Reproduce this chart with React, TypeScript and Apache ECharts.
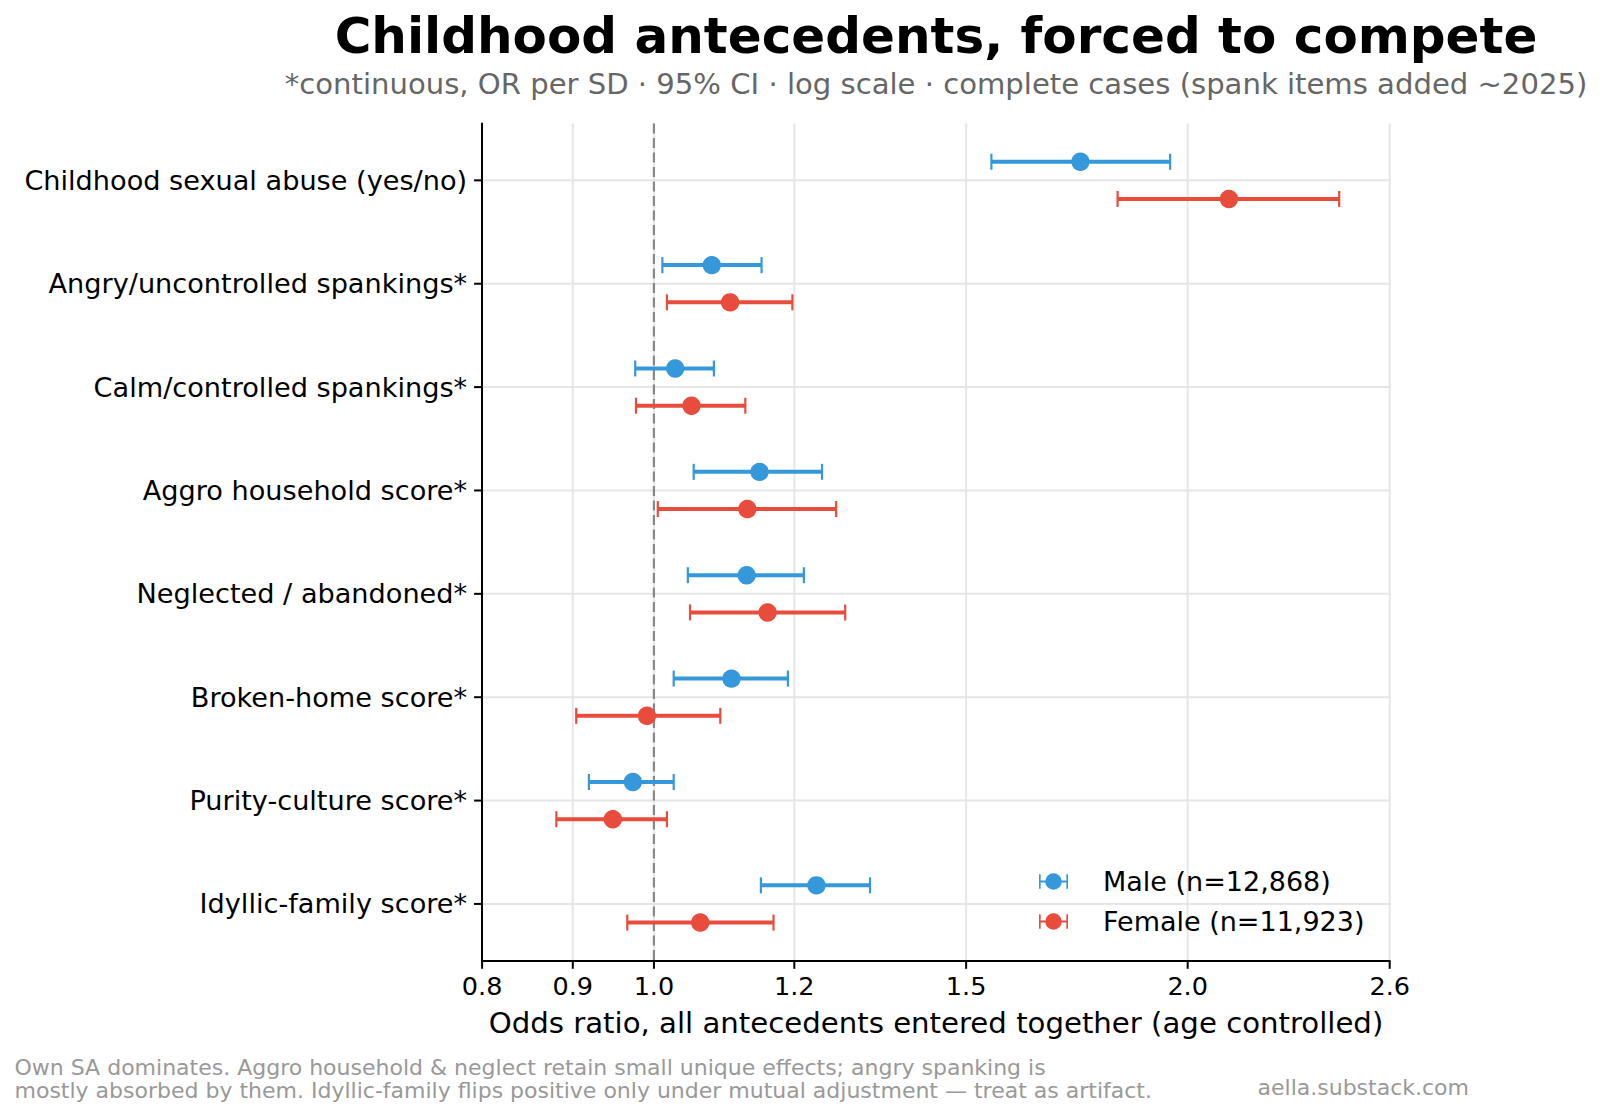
import React, { useEffect, useRef } from "react";
import * as echarts from "echarts";

// Antecedents, top to bottom
const categories = [
  "Childhood sexual abuse (yes/no)",
  "Angry/uncontrolled spankings*",
  "Calm/controlled spankings*",
  "Aggro household score*",
  "Neglected / abandoned*",
  "Broken-home score*",
  "Purity-culture score*",
  "Idyllic-family score*",
];

// Odds ratios with 95% CI bounds
const maleOR = [1.74, 1.078, 1.028, 1.147, 1.128, 1.106, 0.973, 1.235];
const maleLo = [1.55, 1.011, 0.976, 1.053, 1.045, 1.026, 0.919, 1.149];
const maleHi = [1.955, 1.15, 1.081, 1.244, 1.215, 1.19, 1.026, 1.324];

const femaleOR = [2.11, 1.104, 1.05, 1.129, 1.159, 0.991, 0.948, 1.062];
const femaleLo = [1.826, 1.017, 0.977, 1.005, 1.048, 0.904, 0.881, 0.966];
const femaleHi = [2.435, 1.197, 1.126, 1.267, 1.282, 1.09, 1.017, 1.168];

const xTicks = [0.8, 0.9, 1.0, 1.2, 1.5, 2.0, 2.6];
const xTickLabels = ["0.8", "0.9", "1.0", "1.2", "1.5", "2.0", "2.6"];
const refOR = [1.0];

const MALE_NAME = "Male (n=12,868)";
const FEMALE_NAME = "Female (n=11,923)";
const TITLE = "Childhood antecedents, forced to compete";
const SUBTITLE =
  "*continuous, OR per SD \u00b7 95% CI \u00b7 log scale \u00b7 complete cases (spank items added ~2025)";
const X_TITLE = "Odds ratio, all antecedents entered together (age controlled)";
const NOTE_1 =
  "Own SA dominates. Aggro household & neglect retain small unique effects; angry spanking is";
const NOTE_2 =
  "mostly absorbed by them. Idyllic-family flips positive only under mutual adjustment \u2014 treat as artifact.";
const CREDIT = "aella.substack.com";

const X_MIN = 0.8;
const X_MAX = 2.6;
const Y_MIN = -0.55;
const Y_MAX = 7.55;
const ROW_OFFSET = 0.18;

const BLUE = "#3498db";
const RED = "#e74c3c";
const GRID = "#e6e6e6";
const FONT = "DejaVu Sans";

const ERRORBAR_ICON =
  "path://M0,1h1.6v14h-1.6z M26.4,1h1.6v14h-1.6z M0,7h28v2h-28z M6,8a8,8 0 1,1 16,0a8,8 0 1,1 -16,0z";

function errorBarRenderer(offset: number, color: string) {
  return (params: any, api: any) => {
    const or = api.value(0);
    const lo = api.value(1);
    const hi = api.value(2);
    const row = api.value(3) + offset;
    const p = api.coord([or, row]);
    const pl = api.coord([lo, row]);
    const ph = api.coord([hi, row]);
    const y = p[1];
    return {
      type: "group",
      children: [
        {
          type: "line",
          shape: { x1: pl[0], y1: y, x2: ph[0], y2: y },
          style: { stroke: color, lineWidth: 4 },
        },
        {
          type: "line",
          shape: { x1: pl[0], y1: y - 8, x2: pl[0], y2: y + 8 },
          style: { stroke: color, lineWidth: 2.2 },
        },
        {
          type: "line",
          shape: { x1: ph[0], y1: y - 8, x2: ph[0], y2: y + 8 },
          style: { stroke: color, lineWidth: 2.2 },
        },
        {
          type: "circle",
          shape: { cx: p[0], cy: y, r: 9.2 },
          style: { fill: color },
        },
      ],
    };
  };
}

export default function App() {
  const ref = useRef<HTMLDivElement>(null);

  useEffect(() => {
    if (!ref.current) return;
    const chart = echarts.init(ref.current, null, { renderer: "svg" });

    const option: any = {
      animation: false,
      backgroundColor: "#ffffff",
      textStyle: { fontFamily: FONT },
      title: {
        text: TITLE,
        subtext: SUBTITLE,
        left: 936,
        top: 11,
        textAlign: "center",
        padding: 0,
        itemGap: 8,
        textStyle: { fontFamily: FONT, fontSize: 50, fontWeight: "bold", color: "#000" },
        subtextStyle: { fontFamily: FONT, fontSize: 29.1, color: "#666666" },
      },
      legend: {
        data: [MALE_NAME, FEMALE_NAME],
        orient: "vertical",
        left: 1039,
        top: 868,
        padding: 0,
        itemWidth: 29,
        itemHeight: 17,
        itemGap: 13,
        icon: ERRORBAR_ICON,
        textStyle: { fontFamily: FONT, fontSize: 27, color: "#000", padding: [0, 0, 0, 30] },
      },
      grid: {
        left: 482.1,
        top: 123.5,
        width: 907.6,
        height: 837.3,
        containLabel: false,
        outerBoundsMode: "none",
      },
      xAxis: {
        type: "log",
        logBase: 10,
        min: X_MIN,
        max: X_MAX,
        z: 10,
        axisLine: { show: true, onZero: false, lineStyle: { color: "#000", width: 2 } },
        axisTick: { show: false },
        axisLabel: { show: false },
        splitLine: { show: false },
      },
      yAxis: {
        type: "value",
        inverse: true,
        min: Y_MIN,
        max: Y_MAX,
        z: 10,
        axisLine: { show: true, onZero: false, lineStyle: { color: "#000", width: 2 } },
        axisTick: { show: false },
        axisLabel: { show: false },
        splitLine: { show: false },
      },
      graphic: [
        {
          type: "text",
          x: 936,
          y: 1022.5,
          style: {
            text: X_TITLE,
            fontFamily: FONT,
            fontSize: 29.2,
            fill: "#000",
            align: "center",
            verticalAlign: "middle",
          },
        },
        {
          type: "text",
          x: 14.5,
          y: 1067,
          style: {
            text: NOTE_1,
            fontFamily: FONT,
            fontSize: 22,
            fill: "#999999",
            align: "left",
            verticalAlign: "middle",
          },
        },
        {
          type: "text",
          x: 14.5,
          y: 1090,
          style: {
            text: NOTE_2,
            fontFamily: FONT,
            fontSize: 22,
            fill: "#999999",
            align: "left",
            verticalAlign: "middle",
          },
        },
        {
          type: "text",
          x: 1469,
          y: 1087.5,
          style: {
            text: CREDIT,
            fontFamily: FONT,
            fontSize: 22,
            fill: "#999999",
            align: "right",
            verticalAlign: "middle",
          },
        },
      ],
      series: [
        {
          // row gridlines, y ticks and category labels
          type: "custom",
          name: "rows",
          silent: true,
          z: 1,
          clip: false,
          encode: { y: 0 },
          data: categories.map((_, i) => [i]),
          renderItem: (params: any, api: any) => {
            const row = api.value(0);
            const left = api.coord([X_MIN, row]);
            const right = api.coord([X_MAX, row]);
            const y = left[1];
            return {
              type: "group",
              children: [
                {
                  type: "line",
                  shape: { x1: left[0], y1: y, x2: right[0], y2: y },
                  style: { stroke: GRID, lineWidth: 2 },
                },
                {
                  type: "line",
                  shape: { x1: left[0] - 8, y1: y, x2: left[0], y2: y },
                  style: { stroke: "#000", lineWidth: 2 },
                },
                {
                  type: "text",
                  x: left[0] - 15,
                  y: y,
                  style: {
                    text: categories[params.dataIndex],
                    fontFamily: FONT,
                    fontSize: 27.15,
                    fill: "#000",
                    align: "right",
                    verticalAlign: "middle",
                  },
                },
              ],
            };
          },
        },
        {
          // x gridlines, ticks and tick labels on the log scale
          type: "custom",
          name: "xticks",
          silent: true,
          z: 1,
          clip: false,
          encode: { x: 0 },
          data: xTicks.map((v) => [v]),
          renderItem: (params: any, api: any) => {
            const v = api.value(0);
            const top = api.coord([v, Y_MIN]);
            const bottom = api.coord([v, Y_MAX]);
            const x = top[0];
            return {
              type: "group",
              children: [
                {
                  type: "line",
                  shape: { x1: x, y1: top[1], x2: x, y2: bottom[1] },
                  style: { stroke: GRID, lineWidth: 2 },
                },
                {
                  type: "line",
                  shape: { x1: x, y1: bottom[1], x2: x, y2: bottom[1] + 8 },
                  style: { stroke: "#000", lineWidth: 2 },
                },
                {
                  type: "text",
                  x: x,
                  y: bottom[1] + 25.5,
                  style: {
                    text: xTickLabels[params.dataIndex],
                    fontFamily: FONT,
                    fontSize: 25.5,
                    fill: "#000",
                    align: "center",
                    verticalAlign: "middle",
                  },
                },
              ],
            };
          },
        },
        {
          // OR = 1 reference
          type: "custom",
          name: "ref",
          silent: true,
          z: 2,
          clip: false,
          encode: { x: 0 },
          data: refOR.map((v) => [v]),
          renderItem: (params: any, api: any) => {
            const v = api.value(0);
            const top = api.coord([v, Y_MIN]);
            const bottom = api.coord([v, Y_MAX]);
            return {
              type: "line",
              shape: { x1: top[0], y1: top[1], x2: bottom[0], y2: bottom[1] },
              style: { stroke: "#888888", lineWidth: 2.2, lineDash: [10, 4.5] },
            };
          },
        },
        {
          type: "custom",
          name: MALE_NAME,
          z: 3,
          clip: false,
          itemStyle: { color: BLUE },
          encode: { x: [0, 1, 2], y: 3 },
          data: maleOR.map((v, i) => [v, maleLo[i], maleHi[i], i]),
          renderItem: errorBarRenderer(-ROW_OFFSET, BLUE),
        },
        {
          type: "custom",
          name: FEMALE_NAME,
          z: 3,
          clip: false,
          itemStyle: { color: RED },
          encode: { x: [0, 1, 2], y: 3 },
          data: femaleOR.map((v, i) => [v, femaleLo[i], femaleHi[i], i]),
          renderItem: errorBarRenderer(ROW_OFFSET, RED),
        },
      ],
    };

    chart.setOption(option);
    return () => chart.dispose();
  }, []);

  return (
    <div
      ref={ref}
      style={{ position: "fixed", left: 0, top: 0, width: 1603, height: 1117, background: "#fff" }}
    />
  );
}
